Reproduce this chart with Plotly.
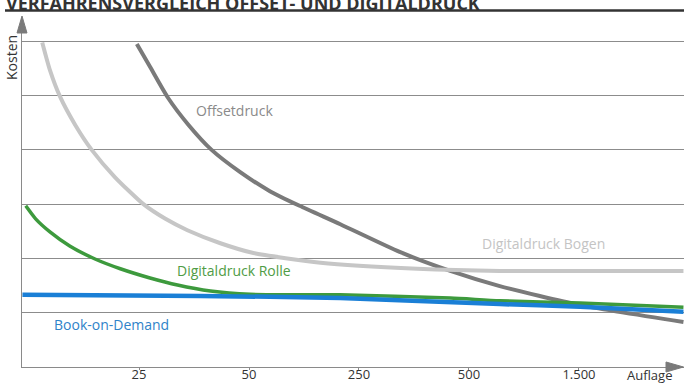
import plotly.graph_objects as go

# Print run (Auflage) tick labels, placed at positions 1..5 along the x axis
tick_pos = [1, 2, 3, 4, 5]
tick_labels = ["25", "50", "250", "500", "1.500"]

# Cost curves (schematic cost per copy), x in tick-position units, y in grid units
offset_x = [0.98, 1.10, 1.26, 1.45, 1.66, 1.92, 2.19, 2.46, 2.83, 3.37, 3.83, 4.28, 5.01, 5.95]
offset_y = [5.95, 5.53, 4.97, 4.46, 4.00, 3.59, 3.24, 2.97, 2.63, 2.12, 1.77, 1.49, 1.14, 0.83]

bogen_x = [0.12, 0.19, 0.28, 0.42, 0.57, 0.78, 1.04, 1.24, 1.44, 1.74, 2.04, 2.65, 3.53, 4.28, 5.95]
bogen_y = [5.98, 5.47, 4.99, 4.46, 4.00, 3.50, 3.00, 2.73, 2.52, 2.28, 2.10, 1.92, 1.81, 1.77, 1.77]

rolle_x = [-0.03, 0.06, 0.19, 0.37, 0.60, 0.83, 1.10, 1.35, 1.65, 2.01, 2.83, 3.83, 4.28, 5.01, 5.95]
rolle_y = [2.97, 2.73, 2.49, 2.23, 1.99, 1.81, 1.64, 1.51, 1.40, 1.34, 1.33, 1.27, 1.22, 1.18, 1.10]

bod_x = [-0.06, 1.56, 2.83, 4.28, 5.01, 5.95]
bod_y = [1.33, 1.31, 1.27, 1.16, 1.11, 1.02]

# Plot-area geometry (pixels) used for the paper-referenced decorations
W, H = 684, 384
ML, MR, MT, MB = 22, 0, 18, 17
PW, PH = W - ML - MR, H - MT - MB
X_RANGE = [-0.064, 5.955]
Y_RANGE = [0, 6.43]

FONT = "Open Sans, Liberation Sans, sans-serif"
AXIS_GREY = "#8a8a8a"
ARROW_GREY = "#7a7a7a"

fig = go.Figure()
fig.add_trace(go.Scatter(x=offset_x, y=offset_y, mode="lines",
                         line=dict(color="#7a7a7a", width=4, shape="spline", smoothing=0.6), name="Offsetdruck"))
fig.add_trace(go.Scatter(x=bogen_x, y=bogen_y, mode="lines",
                         line=dict(color="#c6c6c6", width=4, shape="spline", smoothing=0.6), name="Digitaldruck Bogen"))
fig.add_trace(go.Scatter(x=rolle_x, y=rolle_y, mode="lines",
                         line=dict(color="#3d9a3d", width=3.5, shape="spline", smoothing=0.6), name="Digitaldruck Rolle"))
fig.add_trace(go.Scatter(x=bod_x, y=bod_y, mode="lines",
                         line=dict(color="#1a7fd6", width=4.5, shape="spline", smoothing=0.6), name="Book-on-Demand"))


def px_x(p):
    return (p - ML) / PW


def px_y(p):
    return (H - MB - p) / PH


annotations = [
    dict(x=1.87, y=4.72, text="Offsetdruck", font=dict(color="#8a8a8a", size=14)),
    dict(x=4.68, y=2.28, text="Digitaldruck Bogen", font=dict(color="#c4c4c4", size=14)),
    dict(x=1.86, y=1.77, text="Digitaldruck Rolle", font=dict(color="#4f9c45", size=14)),
    dict(x=0.75, y=0.79, text="Book-on-Demand", font=dict(color="#2f83c9", size=14)),
]
for a in annotations:
    a.update(xref="x", yref="y", showarrow=False, xanchor="center", yanchor="middle")
    a["font"]["family"] = FONT

annotations += [
    dict(xref="paper", yref="paper", x=px_x(11), y=px_y(58), text="Kosten", textangle=-90,
         showarrow=False, xanchor="center", yanchor="middle", font=dict(family=FONT, size=14, color="#333333")),
    dict(xref="paper", yref="paper", x=px_x(649), y=px_y(374.5), text="Auflage",
         showarrow=False, xanchor="center", yanchor="middle", font=dict(family=FONT, size=13, color="#333333")),
    dict(xref="paper", yref="paper", x=px_x(4), y=px_y(17), text="<b>VERFAHRENSVERGLEICH OFFSET- UND DIGITALDRUCK</b>",
         showarrow=False, xanchor="left", yanchor="bottom", font=dict(family=FONT, size=18, color="#333333")),
]

shapes = [
    # heading rule
    dict(type="line", xref="paper", yref="paper", x0=px_x(5), x1=px_x(684), y0=px_y(10.5), y1=px_y(10.5),
         line=dict(color="#333333", width=2.5)),
    # y axis arrowhead
    dict(type="path", xref="paper", yref="paper", layer="above",
         path=f"M {px_x(22):.5f},{px_y(16):.5f} L {px_x(17):.5f},{px_y(33):.5f} L {px_x(27):.5f},{px_y(33):.5f} Z",
         fillcolor=ARROW_GREY, line=dict(color=ARROW_GREY, width=1)),
    # x axis arrowhead
    dict(type="path", xref="paper", yref="paper", layer="above",
         path=f"M {px_x(683.5):.5f},{px_y(367):.5f} L {px_x(666):.5f},{px_y(362):.5f} L {px_x(666):.5f},{px_y(372):.5f} Z",
         fillcolor=ARROW_GREY, line=dict(color=ARROW_GREY, width=1)),
]

fig.update_layout(
    width=W, height=H,
    margin=dict(l=ML, r=MR, t=MT, b=MB, pad=0, autoexpand=False),
    paper_bgcolor="white", plot_bgcolor="white",
    showlegend=False,
    annotations=annotations,
    shapes=shapes,
    xaxis=dict(range=X_RANGE, tickvals=tick_pos, ticktext=tick_labels, showgrid=False, zeroline=False,
               automargin=False, showline=True, linecolor=AXIS_GREY, linewidth=1.2, ticks="outside",
               ticklen=2, tickcolor=AXIS_GREY, ticklabelstandoff=-7,
               tickfont=dict(family=FONT, size=13, color="#333333")),
    yaxis=dict(range=Y_RANGE, dtick=1, tick0=0, showticklabels=False, showgrid=True, gridcolor="#8c8c8c",
               gridwidth=1, zeroline=False, automargin=False, showline=True, linecolor=AXIS_GREY, linewidth=1.2),
)

fig.write_html("out.html")
